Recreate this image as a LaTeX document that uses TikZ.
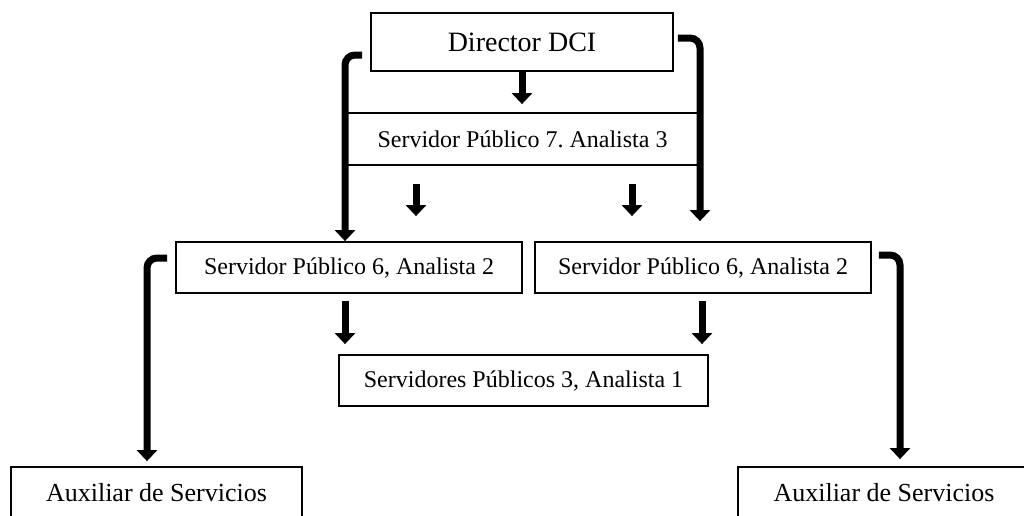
\documentclass[tikz,border=0pt]{standalone}
\usepackage{fontspec}
\setmainfont{Liberation Serif}
\usetikzlibrary{arrows.meta}
\frenchspacing

\begin{document}
\begin{tikzpicture}[x=0.5pt,y=-0.5pt,
  box/.style={draw,line width=0.9pt,rectangle,inner sep=2pt,minimum height=25.5pt,font=\fontsize{12}{14}\selectfont},
  downarrow/.style={line width=3.5pt,-{Triangle[width=10pt,length=5.5pt]}},
  elbow/.style={downarrow,rounded corners=5pt}]
\useasboundingbox (0,0) rectangle (1024,515);
\clip (0,0) rectangle (1024,515);
\node[box,minimum width=151pt,minimum height=29pt,font=\fontsize{14}{16}\selectfont] (1) at (522,42) {Director DCI};
\node[box,minimum width=177.5pt,minimum height=26pt] (2) at (522.5,139) {Servidor Público 7. Analista 3};
\node[box,minimum width=173pt] (3) at (349,267.5) {Servidor Público 6, Analista 2};
\node[box,minimum width=168pt] (4) at (703,267.5) {Servidor Público 6, Analista 2};
\node[box,minimum width=184.5pt] (5) at (523.5,380.5) {Servidores Públicos 3, Analista 1};
\node[box,minimum width=145.5pt,font=\fontsize{13}{15}\selectfont] (6) at (156.5,492.5) {Auxiliar de Servicios};
\node[box,minimum width=146pt,font=\fontsize{13}{15}\selectfont] (7) at (884,492.5) {Auxiliar de Servicios};
\path[draw,downarrow,shorten >=4pt] (1.south) -- (1.south |- 2.north);
\path[draw,elbow] ([xshift=-4pt,yshift=-6.5pt]1.west) -| ([xshift=-2pt]3.north);
\path[draw,elbow,shorten >=10pt] ([xshift=2pt,yshift=2pt]1.east) -| ([xshift=-1.5pt]4.north);
\path[draw,downarrow,shorten <=9pt,shorten >=12.5pt] ([xshift=-53.25pt]2.south) -- ([xshift=-53.25pt]2.south |- 3.north);
\path[draw,downarrow,shorten <=9pt,shorten >=12.5pt] ([xshift=54.75pt]2.south) -- ([xshift=54.75pt]2.south |- 4.north);
\path[draw,downarrow,shorten <=3.5pt,shorten >=5pt] ([xshift=-2pt]3.south) -- ([xshift=-2pt]3.south |- 5.north);
\path[draw,downarrow,shorten <=3.5pt,shorten >=5pt] ([xshift=-0.5pt]4.south) -- ([xshift=-0.5pt]4.south |- 5.north);
\path[draw,elbow,shorten >=2.5pt] ([xshift=-4pt,yshift=4.75pt]3.west) -| ([xshift=-4.75pt]6.north);
\path[draw,elbow,shorten >=3.5pt] ([xshift=3.5pt,yshift=6.25pt]4.east) -| ([xshift=8pt]7.north);
\end{tikzpicture}
\end{document}
